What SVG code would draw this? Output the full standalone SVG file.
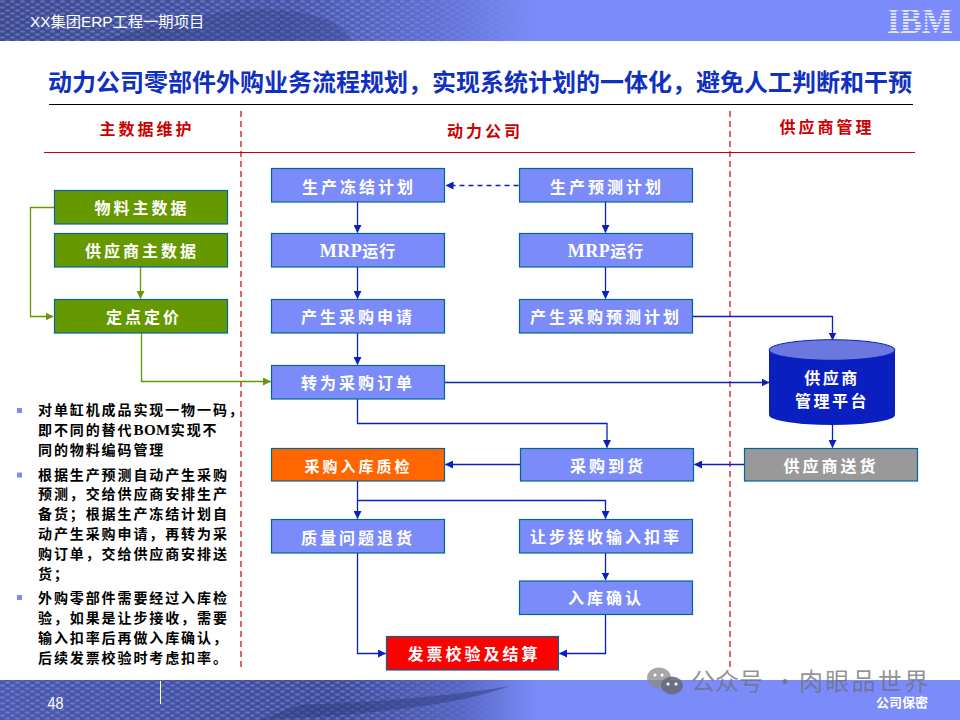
<svg xmlns="http://www.w3.org/2000/svg" width="960" height="720" viewBox="0 0 960 720">
<style>
text{font-family:"Liberation Serif","Noto Sans CJK SC",serif;font-weight:700}
.b rect{stroke:#006699;stroke-width:1.2}
.g{fill:#669900}.u{fill:#7b8cfa}
.n{fill:#fff;font-size:16px;text-anchor:middle;letter-spacing:3px}
.h{fill:#cc0000;font-size:16px;text-anchor:middle;letter-spacing:3px}
.t{fill:#000;font-size:14px;letter-spacing:1.9px}
.c{fill:none;stroke:#0a1fc0;stroke-width:1.3}
.cg{fill:none;stroke:#669900;stroke-width:1.3}
.s{fill:#fff;font-family:"Liberation Sans","Noto Sans CJK SC",sans-serif;font-weight:400}
.l{font-size:18px;letter-spacing:.5px}
</style>
<defs>
<marker id="a" markerUnits="userSpaceOnUse" markerWidth="8" markerHeight="8" refX="7.5" refY="4" orient="auto"><path d="M0 0L8 4L0 8z" fill="#0a1fc0"/></marker>
<marker id="ag" markerUnits="userSpaceOnUse" markerWidth="8" markerHeight="8" refX="7.5" refY="4" orient="auto"><path d="M0 0L8 4L0 8z" fill="#669900"/></marker>
<linearGradient id="hd" x1="0" x2="1" y1="0" y2="0"><stop offset="0" stop-color="#3d4a8c"/><stop offset=".3" stop-color="#4655a8"/><stop offset=".45" stop-color="#5f6fd0"/><stop offset=".56" stop-color="#7b8cfa"/></linearGradient>
<linearGradient id="ft" x1="0" x2="1" y1="0" y2="0"><stop offset="0" stop-color="#4a59ad"/><stop offset=".35" stop-color="#3d4b98"/><stop offset=".48" stop-color="#5666c2"/><stop offset=".56" stop-color="#7b8cfa"/></linearGradient>
<linearGradient id="fade" x1="0" x2="1" y1="0" y2="0"><stop offset=".7" stop-color="#fff"/><stop offset="1" stop-color="#000"/></linearGradient>
<pattern id="dots" width="10" height="6" patternUnits="userSpaceOnUse"><ellipse cx="2.500" cy="1.500" rx="2.600" ry="1.200" fill="#9aa6f5" opacity=".4"/><ellipse cx="7.500" cy="4.500" rx="2.600" ry="1.200" fill="#9aa6f5" opacity=".4"/></pattern>
<mask id="m1"><rect width="550" height="41" fill="url(#fade)"/></mask>
<mask id="m2"><rect y="680" width="520" height="40" fill="url(#fade)"/></mask>
</defs>

<g id="header">
<rect width="960" height="41" fill="url(#hd)"/>
<rect width="550" height="41" fill="url(#dots)" mask="url(#m1)"/>
<path d="M100 41Q220 5 280 10T352 41z" fill="#2f3b7c" opacity=".3"/>
<text class="s" x="30" y="27" font-size="15.300">XX集团ERP工程一期项目</text>
<text x="887" y="32.500" font-size="36" textLength="66" lengthAdjust="spacingAndGlyphs" style="fill:#dfe3fb;font-family:'Liberation Serif',serif">IBM</text>
<path d="M885 9.500H955M885 12.500H955M885 15.500H955M885 18.500H955M885 21.500H955M885 24.500H955M885 27.500H955M885 30.500H955" stroke="#7b8cfa" stroke-width="1"/>
</g>

<g id="footer">
<rect y="680" width="960" height="40" fill="url(#ft)"/>
<rect y="680" width="520" height="40" fill="url(#dots)" mask="url(#m2)"/>
<path d="M260 720Q440 712 510 686Q430 700 300 705z" fill="#2f3b7c" opacity=".5"/>
<path d="M160.500 681V704" stroke="#fff" stroke-width="1"/>
<text class="s" x="47.500" y="709" font-size="16.500" textLength="16" lengthAdjust="spacingAndGlyphs">48</text>
<text class="s" x="876" y="707" font-size="13" textLength="52" lengthAdjust="spacingAndGlyphs" style="font-weight:700">公司保密</text>
</g>

<g id="titleblock">
<text x="48" y="91" font-size="24" style="fill:#1030c0">动力公司零部件外购业务流程规划&#xFF0C;实现系统计划的一体化&#xFF0C;避免人工判断和干预</text>
<path d="M49 104.500H913" stroke="#000" stroke-width="1.2"/>
<path d="M44 152.500H915" stroke="#cc0000" stroke-width="1.2"/>
<path d="M241 111V668M730 111V668" stroke="#cc0000" stroke-width="1.2" stroke-dasharray="6 4"/>
<text class="h" x="147" y="135">主数据维护</text>
<text class="h" x="485" y="137">动力公司</text>
<text class="h" x="827" y="133">供应商管理</text>
</g>

<g id="connectors">
<path class="cg" d="M54 207.500H30.500V316.500H53" marker-end="url(#ag)"/>
<path class="cg" d="M140.500 267V298.500" marker-end="url(#ag)"/>
<path class="cg" d="M141.500 333V381.500H270.500" marker-end="url(#ag)"/>
<path class="c" d="M518.500 185.500H446" stroke-dasharray="5 4" marker-end="url(#a)"/>
<path class="c" d="M357.500 202V232.500" marker-end="url(#a)"/>
<path class="c" d="M357.500 267V298.500" marker-end="url(#a)"/>
<path class="c" d="M357.500 333V364.500" marker-end="url(#a)"/>
<path class="c" d="M605.500 202V232.500" marker-end="url(#a)"/>
<path class="c" d="M605.500 267V298.500" marker-end="url(#a)"/>
<path class="c" d="M692.500 316.500H832.500V340" marker-end="url(#a)"/>
<path class="c" d="M444.500 382.500H769" marker-end="url(#a)"/>
<path class="c" d="M357.500 399V423.500H607V447.500" marker-end="url(#a)"/>
<path class="c" d="M832.500 425V447.500" marker-end="url(#a)"/>
<path class="c" d="M744 464.500H694.500" marker-end="url(#a)"/>
<path class="c" d="M520 464.500H445.500" marker-end="url(#a)"/>
<path class="c" d="M357.500 481V518.500" marker-end="url(#a)"/>
<path class="c" d="M357.500 500.500H605.500V518.500" marker-end="url(#a)"/>
<path class="c" d="M605.500 553V580" marker-end="url(#a)"/>
<path class="c" d="M357.500 553V653.500H385.500" marker-end="url(#a)"/>
<path class="c" d="M605.500 614.500V653.500H559.500" marker-end="url(#a)"/>
</g>

<g id="n1" class="b"><rect class="g" x="54.500" y="190.500" width="173" height="33.500"/><text class="n" x="142" y="213.500">物料主数据</text></g>
<g id="n2" class="b"><rect class="g" x="54.500" y="233.500" width="173" height="33.500"/><text class="n" x="142" y="256.500">供应商主数据</text></g>
<g id="n3" class="b"><rect class="g" x="54.500" y="299.500" width="173" height="33.500"/><text class="n" x="144" y="322.500">定点定价</text></g>
<g id="n4" class="b"><rect class="u" x="271.500" y="168.500" width="173" height="33.500"/><text class="n" x="359" y="192.500">生产冻结计划</text></g>
<g id="n5" class="b"><rect class="u" x="271.500" y="233.500" width="173" height="33.500"/><text class="n" x="358" y="256.500" style="letter-spacing:1px"><tspan class="l">MRP</tspan>运行</text></g>
<g id="n6" class="b"><rect class="u" x="271.500" y="299.500" width="173" height="33.500"/><text class="n" x="358" y="322.500">产生采购申请</text></g>
<g id="n7" class="b"><rect class="u" x="271.500" y="365.500" width="173" height="33.500"/><text class="n" x="358" y="389">转为采购订单</text></g>
<g id="n8" class="b"><rect class="u" x="519.500" y="168.500" width="173" height="33.500"/><text class="n" x="607" y="192.500">生产预测计划</text></g>
<g id="n9" class="b"><rect class="u" x="519.500" y="233.500" width="173" height="33.500"/><text class="n" x="606" y="256.500" style="letter-spacing:1px"><tspan class="l">MRP</tspan>运行</text></g>
<g id="n10" class="b"><rect class="u" x="519.500" y="299.500" width="173" height="33.500"/><text class="n" x="606" y="322.500">产生采购预测计划</text></g>
<g id="n11" class="b"><rect x="271.500" y="448.500" width="173" height="32.500" fill="#ff6600"/><text class="n" x="358.500" y="472" style="font-size:15px">采购入库质检</text></g>
<g id="n12" class="b"><rect class="u" x="520.500" y="448.500" width="173" height="32.500"/><text class="n" x="608" y="472">采购到货</text></g>
<g id="n13" class="b"><rect x="744.500" y="448.500" width="173" height="32.500" fill="#999999"/><text class="n" x="831" y="472">供应商送货</text></g>
<g id="n14" class="b"><rect class="u" x="271.500" y="519.500" width="173" height="33.500"/><text class="n" x="358" y="543.500">质量问题退货</text></g>
<g id="n15" class="b"><rect class="u" x="519.500" y="519.500" width="173" height="33.500"/><text class="n" x="606" y="542.500">让步接收输入扣率</text></g>
<g id="n16" class="b"><rect class="u" x="519.500" y="581" width="173" height="33.500"/><text class="n" x="606" y="604">入库确认</text></g>
<g id="n17" class="b"><rect x="386.500" y="636.500" width="172" height="33.500" fill="#ff0000"/><text class="n" x="474" y="660">发票校验及结算</text></g>

<g id="n18">
<path d="M769 350V415A63 10 0 0 0 895 415V350z" fill="#0a1fc0"/>
<ellipse cx="832" cy="350" rx="63" ry="10.300" fill="#6a78e0" stroke="#0a1fc0" stroke-width="1"/>
<text class="n" x="832" y="384" style="letter-spacing:2.500px">供应商</text>
<text class="n" x="832" y="407" style="letter-spacing:2.500px">管理平台</text>
</g>

<g id="notes">
<path d="M17 408h5v5h-5zM17 472.500h5v5h-5zM17 595h5v5h-5z" fill="#7b8cfa"/>
<text class="t" x="38" y="415">对单缸机成品实现一物一码&#xFF0C;</text>
<text class="t" x="38" y="435">即不同的替代<tspan style="font-size:15px;letter-spacing:.5px">BOM</tspan>实现不</text>
<text class="t" x="38" y="455">同的物料编码管理</text>
<text class="t" x="38" y="480">根据生产预测自动产生采购</text>
<text class="t" x="38" y="499">预测&#xFF0C;交给供应商安排生产</text>
<text class="t" x="38" y="519">备货&#xFF1B;根据生产冻结计划自</text>
<text class="t" x="38" y="539">动产生采购申请&#xFF0C;再转为采</text>
<text class="t" x="38" y="559">购订单&#xFF0C;交给供应商安排送</text>
<text class="t" x="38" y="579">货&#xFF1B;</text>
<text class="t" x="38" y="603">外购零部件需要经过入库检</text>
<text class="t" x="38" y="623">验&#xFF0C;如果是让步接收&#xFF0C;需要</text>
<text class="t" x="38" y="643">输入扣率后再做入库确认&#xFF0C;</text>
<text class="t" x="38" y="663">后续发票校验时考虑扣率。</text>
</g>

<g id="watermark">
<ellipse cx="659" cy="678" rx="12" ry="10.500" fill="#8a8a8a" opacity=".75"/>
<ellipse cx="672" cy="685.500" rx="11" ry="9" fill="#6a6a7a" opacity=".9"/>
<path d="M655 675h.1M662 675h.1M668 684h.1M676 684h.1" stroke="#fff" stroke-width="3" stroke-linecap="round"/>
<text y="690" font-size="24" style="fill:#6e6e78;fill-opacity:.75;font-family:'Noto Sans CJK SC',sans-serif;font-weight:400"><tspan x="691">公众号</tspan><tspan x="773">·</tspan><tspan x="799" style="letter-spacing:2.300px">肉眼品世界</tspan></text>
</g>
</svg>
